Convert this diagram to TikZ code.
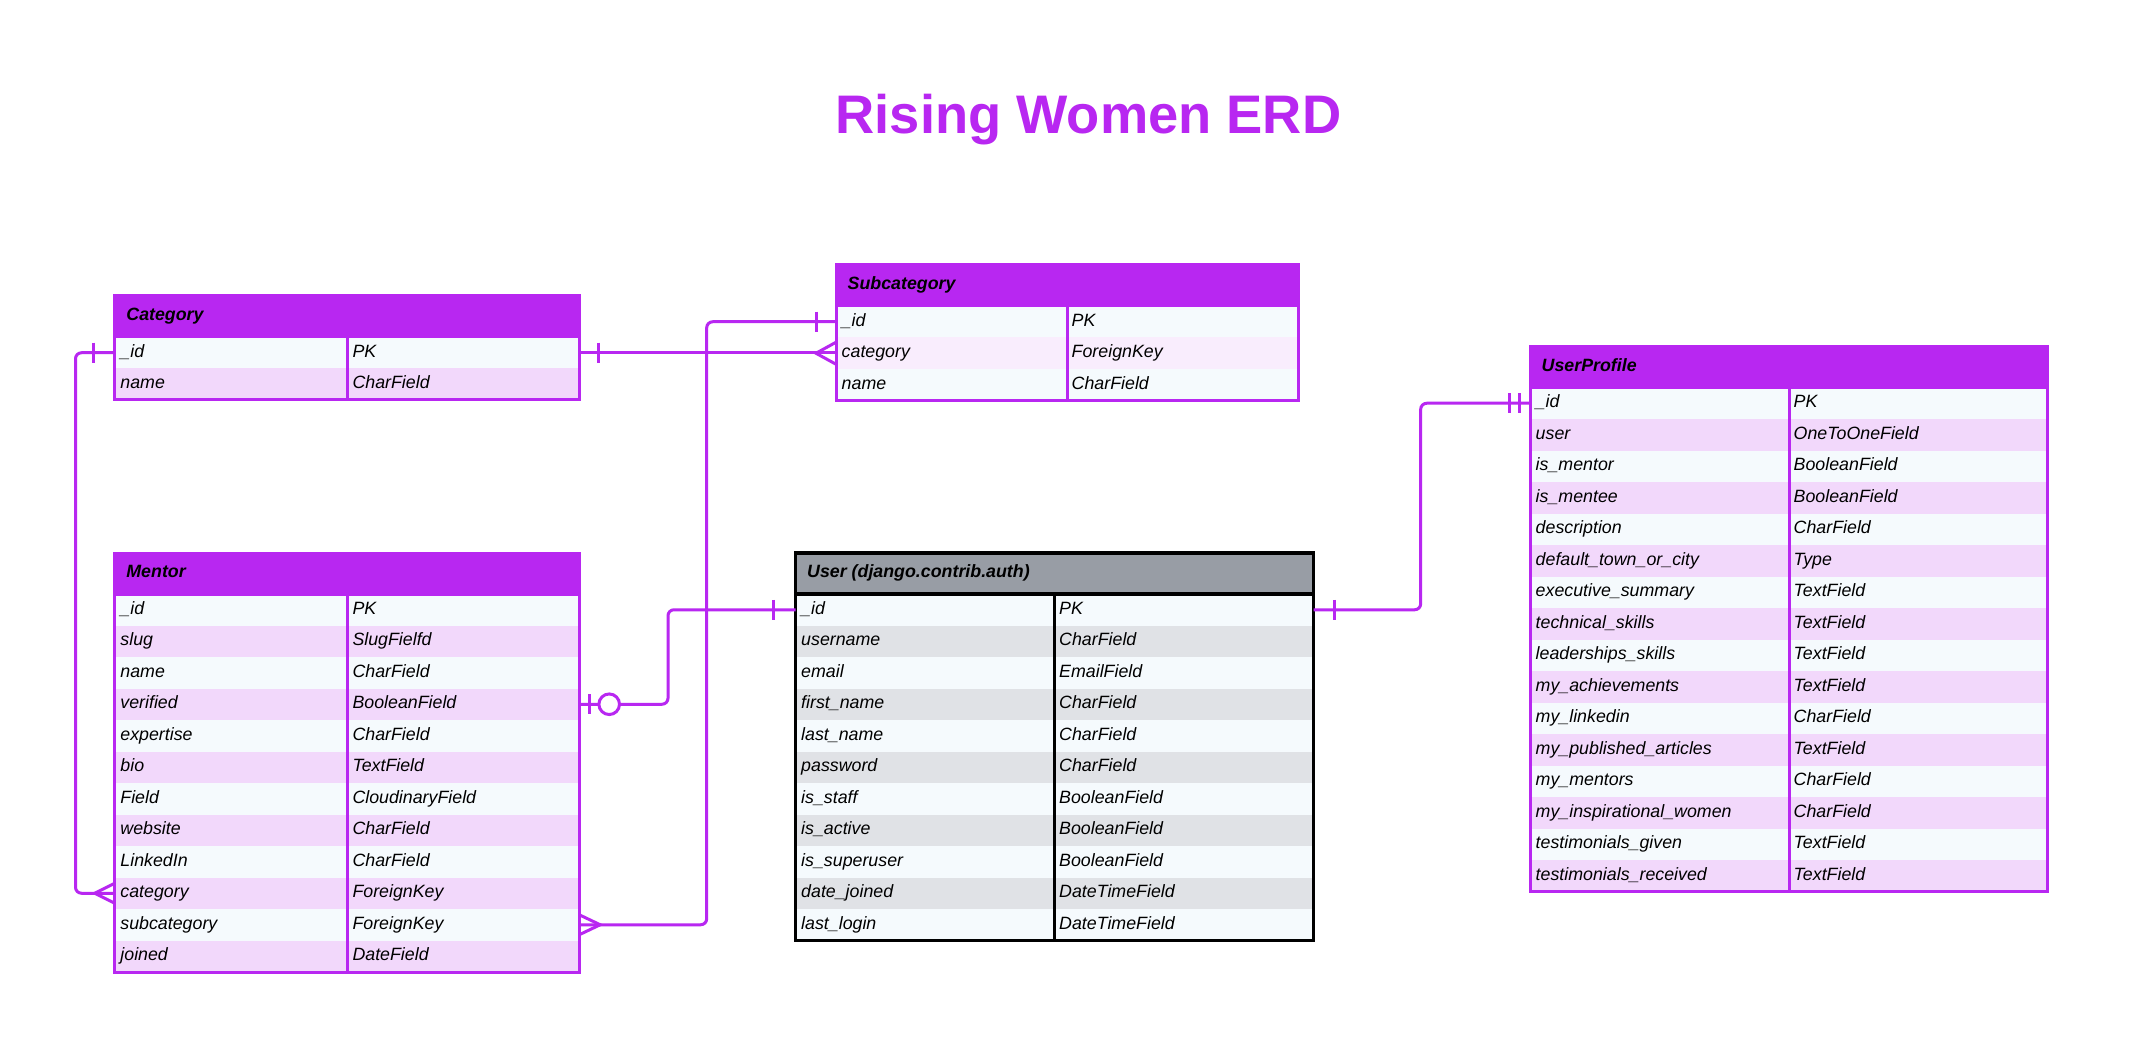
\documentclass[tikz,border=0pt]{standalone}
\usepackage{fontspec}
\setmainfont{Liberation Sans}
\usetikzlibrary{calc}

\definecolor{erdpurple}{HTML}{B827F1}
\definecolor{rowL}{HTML}{F5FAFD}
\definecolor{rowP}{HTML}{F2D8FB}
\definecolor{rowQ}{HTML}{F9EDFD}
\definecolor{rowG}{HTML}{E0E2E6}
\definecolor{usrhead}{HTML}{989DA5}

\tikzset{
  conn/.style={draw=erdpurple, line width=3pt},
  p-head/.style={fill=erdpurple},
  p-line/.style={draw=erdpurple, line width=3pt},
  u-head/.style={fill=usrhead},
  u-line/.style={draw=black, line width=3.5pt},
  rowbox/.style={inner sep=0pt, outer sep=0pt, minimum height=31.5pt, anchor=north west},
  headbox/.style={inner sep=0pt, outer sep=0pt, minimum height=41pt, anchor=north west},
  celltext/.style={inner sep=0pt, anchor=base west, font=\fontsize{17.8}{20}\selectfont\itshape},
  headtext/.style={inner sep=0pt, anchor=base west, font=\fontsize{17.8}{20}\selectfont\bfseries\itshape},
}

% #1 id, #2 x1, #3 x2, #4 divider x, #5 top y, #6 rows, #7 title, #8 style, #9 row list
\newcommand{\ertable}[9]{%
  \node[headbox, #8-head, minimum width={#3-#2}] (#1-h) at (#2,#5) {};
  \node[headtext] (#1-t) at ({#2+11.5},{#5+24.7}) {#7};
  \foreach \fa/\fb/\fc [count=\i] in {#9} {
    \node[rowbox, fill=\fc, minimum width={#3-#2}] (#1-\i) at (#2,{#5+41+(\i-1)*31.5}) {};
    \node[celltext] (#1-\i-a) at ({#2+5.5},{#5+41+(\i-1)*31.5+20.2}) {\fa};
    \node[celltext] (#1-\i-b) at ({#4+4.5},{#5+41+(\i-1)*31.5+20.2}) {\fb};
  }
  \draw[#8-line] (#4,{#5+41}) -- (#4,{#5+41+#6*31.5});
  \draw[#8-line] (#2,{#5+41}) -- (#3,{#5+41});
  \draw[#8-line] (#2,#5) rectangle (#3,{#5+41+#6*31.5});
}

\begin{document}
\begin{tikzpicture}[x=1pt,y=-1pt]
\useasboundingbox (0,0) rectangle (2142,1048);
\fill[white] (0,0) rectangle (2142,1048);

\node[font=\fontsize{54.3}{60}\selectfont\bfseries, text=erdpurple, anchor=base, inner sep=0pt] (title) at (1088.5,134) {Rising Women ERD};

\ertable{cat}{114.7}{579.2}{347.8}{296}{2}{Category}{p}{%
  \_id/PK/rowL, name/CharField/rowP}

\ertable{sub}{836}{1298.4}{1067}{265}{3}{Subcategory}{p}{%
  \_id/PK/rowL, category/ForeignKey/rowQ, name/CharField/rowL}

\ertable{men}{114.7}{579.2}{347.8}{553}{12}{Mentor}{p}{%
  \_id/PK/rowL, slug/SlugFielfd/rowP, name/CharField/rowL, verified/BooleanField/rowP,
  expertise/CharField/rowL, bio/TextField/rowP, Field/CloudinaryField/rowL,
  website/CharField/rowP, LinkedIn/CharField/rowL, category/ForeignKey/rowP,
  subcategory/ForeignKey/rowL, joined/DateField/rowP}

\ertable{usr}{795.5}{1313.5}{1054.5}{553}{11}{User (django.contrib.auth)}{u}{%
  \_id/PK/rowL, username/CharField/rowG, email/EmailField/rowL, first\_name/CharField/rowG,
  last\_name/CharField/rowL, password/CharField/rowG, is\_staff/BooleanField/rowL,
  is\_active/BooleanField/rowG, is\_superuser/BooleanField/rowL,
  date\_joined/DateTimeField/rowG, last\_login/DateTimeField/rowL}

\ertable{up}{1530}{2047.5}{1789}{346.5}{16}{UserProfile}{p}{%
  \_id/PK/rowL, user/OneToOneField/rowP, is\_mentor/BooleanField/rowL,
  is\_mentee/BooleanField/rowP, description/CharField/rowL,
  default\_town\_or\_city/Type/rowP, executive\_summary/TextField/rowL,
  technical\_skills/TextField/rowP, leaderships\_skills/TextField/rowL,
  my\_achievements/TextField/rowP, my\_linkedin/CharField/rowL,
  my\_published\_articles/TextField/rowP, my\_mentors/CharField/rowL,
  my\_inspirational\_women/CharField/rowP, testimonials\_given/TextField/rowL,
  testimonials\_received/TextField/rowP}

% junction coordinates
\coordinate (j2) at (706.7,0);
\coordinate (j3) at (668,0);
\coordinate (j4) at (1420.7,0);
\coordinate (j5) at (75.5,0);

% Category -> Subcategory.category
\draw[conn] (cat-1.east) -- (cat-1.east -| sub-2.west);
\draw[conn] ([xshift=19pt,yshift=10pt]cat-1.east) -- ([xshift=19pt,yshift=-10pt]cat-1.east);
\draw[conn] ([yshift=11pt]sub-2.west) -- ([xshift=-20pt]sub-2.west) -- ([yshift=-11pt]sub-2.west);

% Mentor.subcategory -> Subcategory._id
\draw[conn, rounded corners=6pt] (men-11.east) -- (men-11.east -| j2) -- (j2 |- sub-1.west) -- (sub-1.west);
\draw[conn] ([yshift=10pt]men-11.east) -- ([xshift=21pt]men-11.east) -- ([yshift=-10pt]men-11.east);
\draw[conn] ([xshift=-20pt,yshift=10pt]sub-1.west) -- ([xshift=-20pt,yshift=-10pt]sub-1.west);

% Mentor.verified -> User._id
\draw[conn, rounded corners=6pt] (men-4.east) -- (men-4.east -| j3) -- (j3 |- usr-1.west) -- (usr-1.west);
\draw[conn] ([xshift=10pt,yshift=10pt]men-4.east) -- ([xshift=10pt,yshift=-10pt]men-4.east);
\draw[conn, fill=white] ([xshift=30pt]men-4.east) circle[radius=10.3pt];
\draw[conn] ([xshift=-22pt,yshift=10pt]usr-1.west) -- ([xshift=-22pt,yshift=-10pt]usr-1.west);

% User._id -> UserProfile._id
\draw[conn, rounded corners=6pt] (usr-1.east) -- (usr-1.east -| j4) -- (j4 |- up-1.west) -- (up-1.west);
\draw[conn] ([xshift=21pt,yshift=10pt]usr-1.east) -- ([xshift=21pt,yshift=-10pt]usr-1.east);
\draw[conn] ([xshift=-21pt,yshift=10pt]up-1.west) -- ([xshift=-21pt,yshift=-10pt]up-1.west);
\draw[conn] ([xshift=-11pt,yshift=10pt]up-1.west) -- ([xshift=-11pt,yshift=-10pt]up-1.west);

% Category._id -> Mentor.category
\draw[conn, rounded corners=6pt] (cat-1.west) -- (cat-1.west -| j5) -- (j5 |- men-10.west) -- (men-10.west);
\draw[conn] ([xshift=-21pt,yshift=10pt]cat-1.west) -- ([xshift=-21pt,yshift=-10pt]cat-1.west);
\draw[conn] ([yshift=10pt]men-10.west) -- ([xshift=-20pt]men-10.west) -- ([yshift=-10pt]men-10.west);
\end{tikzpicture}
\end{document}
